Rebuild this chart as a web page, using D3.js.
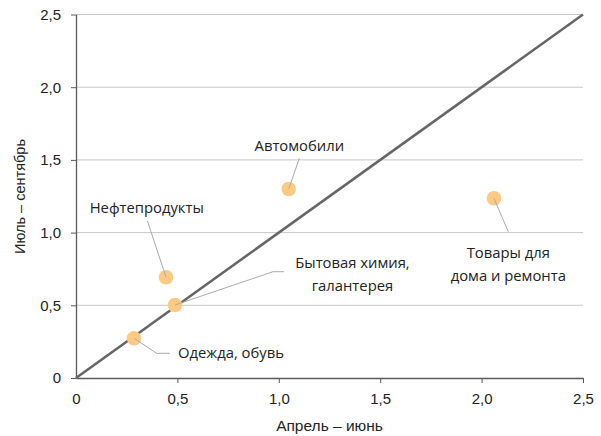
<!DOCTYPE html>
<html><head><meta charset="utf-8">
<script src="https://cdn.jsdelivr.net/npm/d3@7"></script>
<style>body{margin:0;background:#fff}svg{display:block}</style>
</head><body>
<svg id="c" width="601" height="436"></svg>
<script>
const categories = ["Одежда, обувь","Бытовая химия, галантерея","Нефтепродукты","Автомобили","Товары для дома и ремонта"];
const aprJun = [0.286, 0.488, 0.444, 1.049, 2.061];
const julSep = [0.273, 0.502, 0.693, 1.300, 1.236];
const tickValues = [0, 0.5, 1.0, 1.5, 2.0, 2.5];
const tickLabels = ["0","0,5","1,0","1,5","2,0","2,5"];
const labelLines = [["Одежда, обувь"],["Бытовая химия,","галантерея"],["Нефтепродукты"],["Автомобили"],["Товары для","дома и ремонта"]];

const svg = d3.select("#c");
const x = d3.scaleLinear().domain([0,2.5]).range([76,583]);
const y = d3.scaleLinear().domain([0,2.5]).range([378,14.5]);
const fontT = "'Open Sans', 'DejaVu Sans', sans-serif";
const fontA = "'Liberation Sans', Arial, sans-serif";

// gridlines
svg.append("g").selectAll("line").data(tickValues.slice(1)).join("line")
  .attr("x1",x(0)).attr("x2",x(2.5)).attr("y1",d=>y(d)).attr("y2",d=>y(d))
  .attr("stroke","#c8c8c8").attr("stroke-width",1);

// axes
const fmt = d=>tickLabels[tickValues.indexOf(d)];
const gx = svg.append("g").attr("transform",`translate(0,${y(0)})`)
  .call(d3.axisBottom(x).tickValues(tickValues).tickFormat(fmt).tickSize(5).tickSizeOuter(0).tickPadding(10));
const gy = svg.append("g").attr("transform",`translate(${x(0)},0)`)
  .call(d3.axisLeft(y).tickValues(tickValues).tickFormat(fmt).tickSize(5).tickSizeOuter(0).tickPadding(10));
[gx,gy].forEach(g=>{
  g.select(".domain").attr("stroke","#5a5a5a").attr("stroke-width",1.3);
  g.selectAll(".tick line").attr("stroke","#5a5a5a");
  g.selectAll(".tick text").attr("fill","#222").style("font-family",fontA).style("font-size","15px");
});
gx.selectAll(".tick").filter(d=>d===0).select("line").remove();

// diagonal
svg.append("line").attr("x1",x(0)).attr("y1",y(0)).attr("x2",x(2.5)).attr("y2",y(2.5))
  .attr("stroke","#666").attr("stroke-width",2.5);

// points
svg.append("g").selectAll("circle").data(categories).join("circle")
  .attr("cx",(d,i)=>x(aprJun[i])).attr("cy",(d,i)=>y(julSep[i])).attr("r",7.3)
  .attr("fill","#fdca84");

// leader lines (pixel offsets relative to points are layout, not data)
const leaders = [
  [[0,0],[22.7,15],[36,15]],
  [[0,0],[98,-33.3],[109,-33.3]],
  [[0,0],[-18.7,-56.6]],
  [[0,0],[10.6,-30.7]],
  [[0,0],[14.3,33.4]]
];
const line = d3.line();
svg.append("g").selectAll("path").data(leaders).join("path")
  .attr("d",(pts,i)=>line(pts.map(p=>[x(aprJun[i])+p[0], y(julSep[i])+p[1]])))
  .attr("fill","none").attr("stroke","#aaa").attr("stroke-width",1);

// labels: [dx, dy(first line center), anchor]
const lab = [
  [44,15,"start"],
  [177.5,-42,"middle"],
  [-19.3,-69.6,"middle"],
  [10.6,-43,"middle"],
  [14.3,54.4,"middle"]
];
categories.forEach((c,i)=>{
  const t = svg.append("text").attr("text-anchor",lab[i][2])
    .style("font-family",fontT).style("font-size","14.8px").attr("fill","#222");
  labelLines[i].forEach((s,k)=>{
    t.append("tspan").attr("x",x(aprJun[i])+lab[i][0])
      .attr("y",y(julSep[i])+lab[i][1]+k*23).attr("dy","0.35em").text(s);
  });
});

// axis titles
svg.append("text").attr("x",(x(0)+x(2.5))/2).attr("y",425.5).attr("dy","0.35em")
  .attr("text-anchor","middle").style("font-family",fontA).style("font-size","15.5px").attr("fill","#222")
  .text("Апрель – июнь");
svg.append("text").attr("transform","translate(20,196.5) rotate(-90)").attr("dy","0.35em")
  .attr("text-anchor","middle").style("font-family",fontA).style("font-size","14.5px").attr("fill","#222")
  .text("Июль – сентябрь");
</script>
</body></html>
